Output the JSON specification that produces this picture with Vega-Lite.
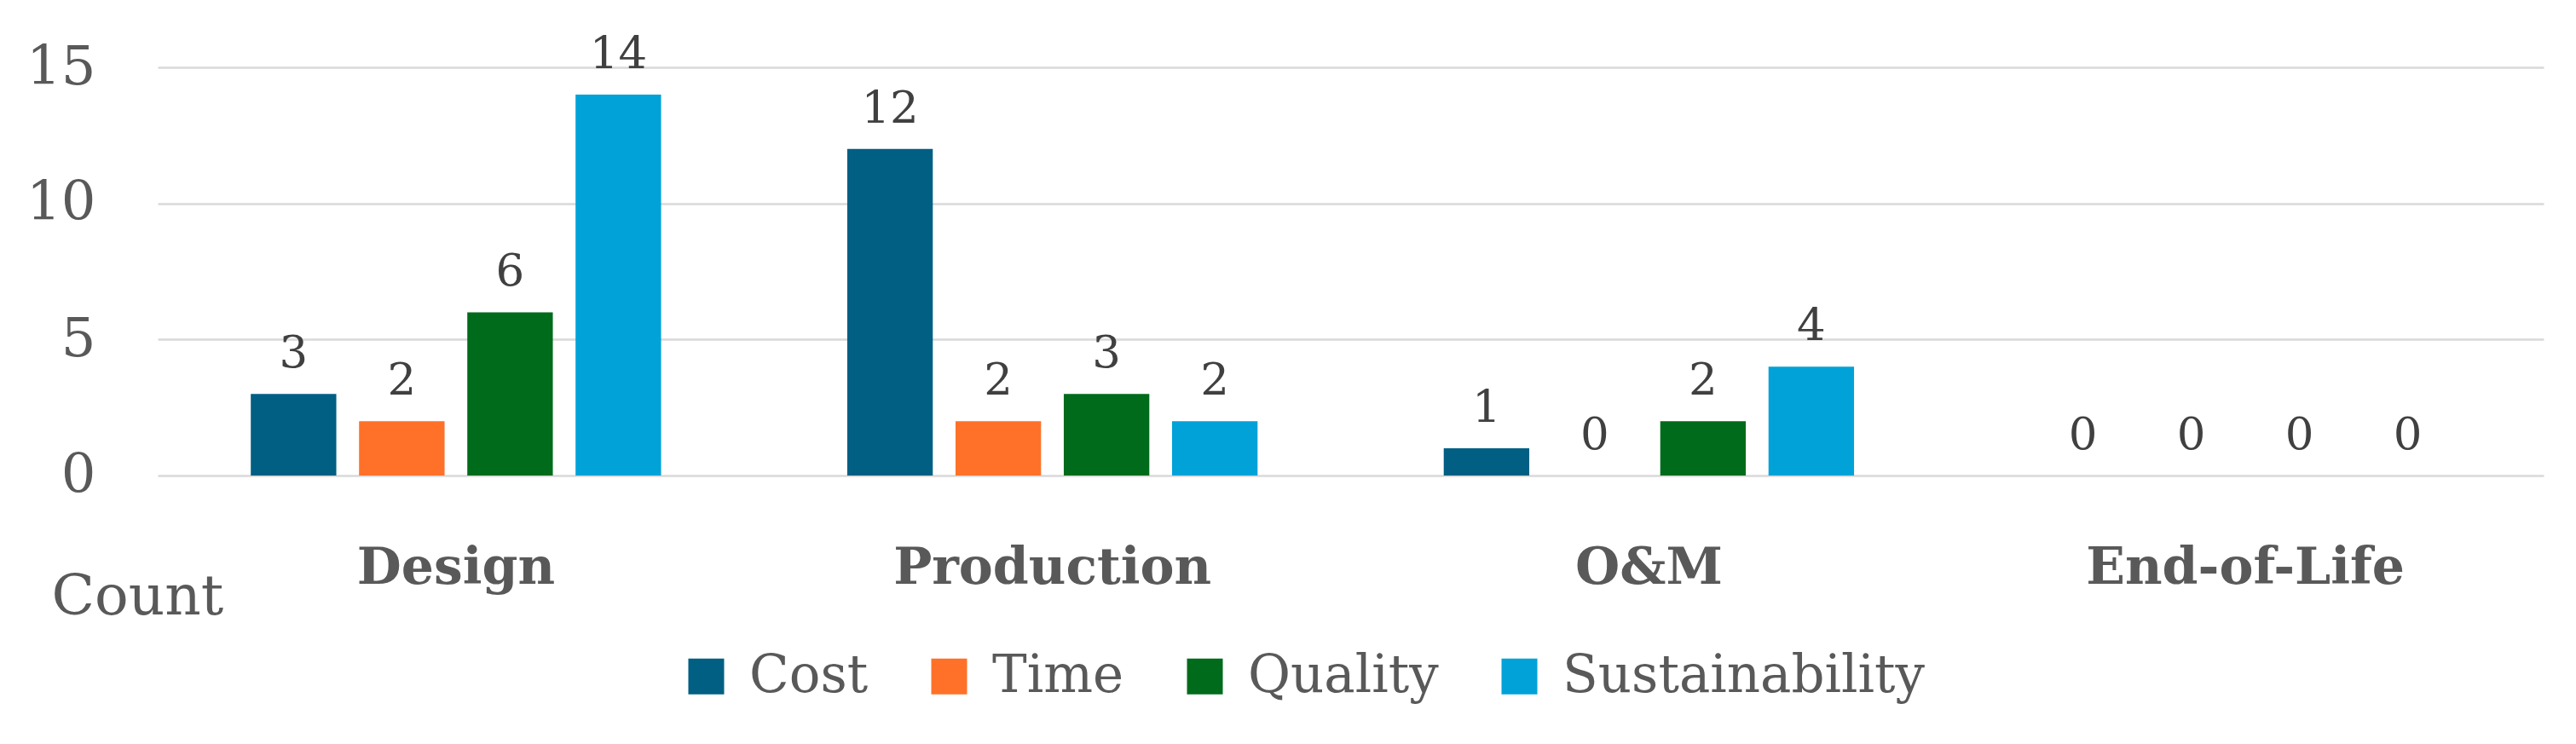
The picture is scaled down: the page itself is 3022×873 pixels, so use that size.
{
  "$schema": "https://vega.github.io/schema/vega-lite/v6.json",
  "autosize": {"type": "none"},
  "padding": {"left": 185, "top": 79, "right": 38, "bottom": 315},
  "width": 2799,
  "height": 479,
  "background": "white",
  "config": {
    "view": {"stroke": null},
    "font": "DejaVu Serif"
  },
  "data": {
    "values": [
      {"stage": "Design", "criterion": "Cost", "count": 3},
      {"stage": "Design", "criterion": "Time", "count": 2},
      {"stage": "Design", "criterion": "Quality", "count": 6},
      {"stage": "Design", "criterion": "Sustainability", "count": 14},
      {"stage": "Production", "criterion": "Cost", "count": 12},
      {"stage": "Production", "criterion": "Time", "count": 2},
      {"stage": "Production", "criterion": "Quality", "count": 3},
      {"stage": "Production", "criterion": "Sustainability", "count": 2},
      {"stage": "O&M", "criterion": "Cost", "count": 1},
      {"stage": "O&M", "criterion": "Time", "count": 0},
      {"stage": "O&M", "criterion": "Quality", "count": 2},
      {"stage": "O&M", "criterion": "Sustainability", "count": 4},
      {"stage": "End-of-Life", "criterion": "Cost", "count": 0},
      {"stage": "End-of-Life", "criterion": "Time", "count": 0},
      {"stage": "End-of-Life", "criterion": "Quality", "count": 0},
      {"stage": "End-of-Life", "criterion": "Sustainability", "count": 0}
    ]
  },
  "encoding": {
    "x": {
      "field": "stage",
      "type": "nominal",
      "sort": ["Design", "Production", "O&M", "End-of-Life"],
      "scale": {"paddingInner": 0.274, "paddingOuter": 0.137},
      "axis": {
        "title": null,
        "domain": false,
        "ticks": false,
        "tickSize": 0,
        "labelAngle": 0,
        "labelLimit": 0,
        "labelFont": "DejaVu Serif",
        "labelFontSize": 60,
        "labelFontWeight": "bold",
        "labelColor": "#595959",
        "labelBaseline": "alphabetic",
        "labelPadding": 126
      }
    },
    "xOffset": {
      "field": "criterion",
      "type": "nominal",
      "sort": ["Cost", "Time", "Quality", "Sustainability"],
      "scale": {"paddingInner": 0.21, "paddingOuter": 0.105}
    },
    "y": {
      "field": "count",
      "type": "quantitative",
      "scale": {"domain": [0, 15], "nice": false},
      "axis": {
        "values": [0, 5, 10, 15],
        "domain": false,
        "ticks": false,
        "tickSize": 0,
        "grid": true,
        "gridColor": "#D9D9D9",
        "gridWidth": 2.5,
        "labelFont": "DejaVu Serif",
        "labelFontSize": 64,
        "labelColor": "#595959",
        "labelPadding": 73,
        "title": "Count",
        "titleFont": "DejaVu Serif",
        "titleFontSize": 66,
        "titleFontWeight": "normal",
        "titleColor": "#595959",
        "titleAngle": 0,
        "titleAlign": "left",
        "titleBaseline": "alphabetic",
        "titleX": -125,
        "titleY": 641
      }
    }
  },
  "layer": [
    {
      "mark": {"type": "bar"},
      "encoding": {
        "color": {
          "field": "criterion",
          "type": "nominal",
          "sort": ["Cost", "Time", "Quality", "Sustainability"],
          "scale": {
            "domain": ["Cost", "Time", "Quality", "Sustainability"],
            "range": ["#005F83", "#FF7128", "#006B1A", "#00A2D8"]
          },
          "legend": {
            "title": null,
            "orient": "none",
            "direction": "horizontal",
            "legendX": 613,
            "legendY": 684,
            "padding": 0,
            "symbolType": "square",
            "symbolSize": 1764,
            "symbolStrokeWidth": 0,
            "symbolOpacity": 1,
            "labelFont": "DejaVu Serif",
            "labelFontSize": 61,
            "labelColor": "#595959",
            "labelOffset": 20,
            "labelLimit": 0,
            "columnPadding": 64
          }
        }
      }
    },
    {
      "mark": {
        "type": "text",
        "baseline": "alphabetic",
        "dy": -31,
        "font": "DejaVu Serif",
        "fontSize": 53,
        "color": "#404040"
      },
      "encoding": {
        "text": {"field": "count", "type": "quantitative"}
      }
    }
  ]
}
